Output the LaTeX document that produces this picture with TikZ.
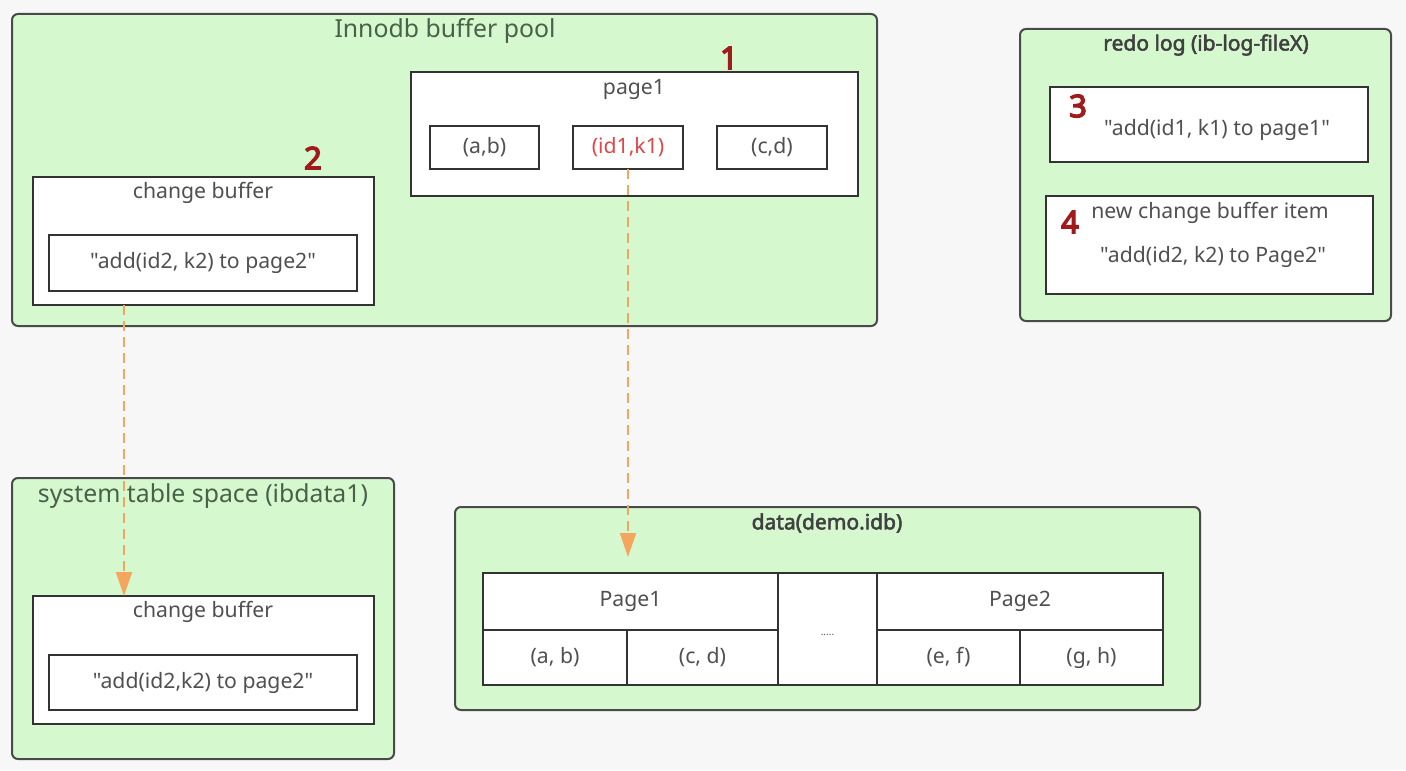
\documentclass[tikz,border=0pt]{standalone}
\usepackage{fontspec}
\setmainfont{Noto Sans}[Ligatures=TeXOff,AutoFakeBold=2.5]
\newfontfamily\numfont{Noto Sans}[FakeBold=4.5]
\usetikzlibrary{arrows.meta}
\definecolor{bgc}{HTML}{F7F7F7}
\definecolor{grn}{HTML}{D6F8CF}
\definecolor{frame}{HTML}{4A4A4A}
\definecolor{txt}{HTML}{505050}
\definecolor{numc}{HTML}{A01C1C}
\definecolor{redt}{HTML}{E04646}
\definecolor{org}{HTML}{F4A55E}
\begin{document}
\begin{tikzpicture}[x=0.5pt,y=-0.5pt,
  every node/.style={inner sep=0pt,outer sep=0pt,font=\fontsize{10.6}{12}\selectfont,text=txt},
  cont/.style={draw=frame,line width=1pt,fill=grn,rounded corners=3pt,anchor=north west},
  wbox/.style={draw=black!80,line width=1.4pt,fill=white,anchor=north west},
  cell/.style={draw=black!80,line width=1.1pt,fill=white,anchor=north west},
  ttl/.style={font=\fontsize{12.4}{14}\selectfont,text=txt!90!green},
  bttl/.style={font=\bfseries\fontsize{10.5}{12}\selectfont,text=black!75},
  num/.style={font=\numfont\fontsize{15.5}{17}\selectfont,text=numc},
  arr/.style={draw=org,line width=1pt,dash pattern=on 5pt off 3pt,-{Triangle[width=8pt,length=12pt,fill=org]}}]
\fill[bgc] (0,0) rectangle (1406,770);
\useasboundingbox (0,0) rectangle (1406,770);
% Innodb buffer pool
\node[cont,minimum width=432.5pt,minimum height=156pt] (pool) at (12,14) {};
\node[ttl] (poolt) at (445,31) {Innodb buffer pool};
\node[wbox,minimum width=223.5pt,minimum height=62pt] (page1) at (411,72) {};
\node (page1t) at (634,89) {page1};
\node[wbox,minimum width=54.5pt,minimum height=21.5pt] (ab) at (430,126) {};
\node at (ab.center) {(a,b)};
\node[wbox,minimum width=55pt,minimum height=21.5pt] (idk) at (573,126) {};
\node[text=redt] at (idk.center) {(id1,k1)};
\node[wbox,minimum width=55pt,minimum height=21.5pt] (cd) at (717,126) {};
\node at (cd.center) {(c,d)};
\node[num] (n1) at (729,58) {1};
\node[wbox,minimum width=170.5pt,minimum height=64pt] (cb1) at (33,177) {};
\node (cb1t) at (203,193) {change buffer};
\node[wbox,minimum width=154pt,minimum height=28pt] (cb1in) at (49,235) {};
\node at (cb1in.center) {"add(id2, k2) to page2"};
\node[num] (n2) at (313,158) {2};
% redo log
\node[cont,minimum width=185.5pt,minimum height=146pt] (redo) at (1020,29) {};
\node[bttl] (redot) at (1206,45) {redo log (ib-log-fileX)};
\node[wbox,minimum width=159pt,minimum height=37.5pt] (r3) at (1050,87) {};
\node[num] (n3) at (1078,106) {3};
\node (r3t) at (1217,130) {"add(id1, k1) to page1"};
\node[wbox,minimum width=163.5pt,minimum height=49pt] (r4) at (1046,196) {};
\node[num] (n4) at (1070,222) {4};
\node (r4a) at (1210,213) {new change buffer item};
\node (r4b) at (1213,257) {"add(id2, k2) to Page2"};
% system table space
\node[cont,minimum width=191pt,minimum height=140.5pt] (sys) at (12,478) {};
\node[ttl] (syst) at (203,496) {system table space (ibdata1)};
\node[wbox,minimum width=170.5pt,minimum height=64pt] (cb2) at (33,596) {};
\node (cb2t) at (203,612) {change buffer};
\node[wbox,minimum width=154pt,minimum height=27.5pt] (cb2in) at (49,655) {};
\node at (cb2in.center) {"add(id2,k2) to page2"};
% data
\node[cont,minimum width=372.5pt,minimum height=101.5pt] (data) at (455,507) {};
\node[bttl] (datat) at (827,523) {data(demo.idb)};
\node[cell,minimum width=147.5pt,minimum height=28.5pt] (P1) at (483,573) {};
\node at (P1.center) {Page1};
\node[cell,minimum width=72pt,minimum height=27.5pt] (P1a) at (483,630) {};
\node at (P1a.center) {(a, b)};
\node[cell,minimum width=75.5pt,minimum height=27.5pt] (P1b) at (627,630) {};
\node at (P1b.center) {(c, d)};
\node[cell,minimum width=49.5pt,minimum height=56pt] (dots) at (778,573) {};
\node[font=\fontsize{5}{6}\selectfont] at ([yshift=-3pt]dots.center) {.....};
\node[cell,minimum width=143pt,minimum height=28.5pt] (P2) at (877,573) {};
\node at (P2.center) {Page2};
\node[cell,minimum width=71.5pt,minimum height=27.5pt] (P2a) at (877,630) {};
\node at (P2a.center) {(e, f)};
\node[cell,minimum width=71.5pt,minimum height=27.5pt] (P2b) at (1020,630) {};
\node at (P2b.center) {(g, h)};
% arrows
\coordinate (x1) at (124,0);
\draw[arr] (cb1.south -| x1) -- (cb2.north -| x1);
\coordinate (t2) at (628,557);
\draw[arr] (idk.south) -- (t2);
\end{tikzpicture}
\end{document}
